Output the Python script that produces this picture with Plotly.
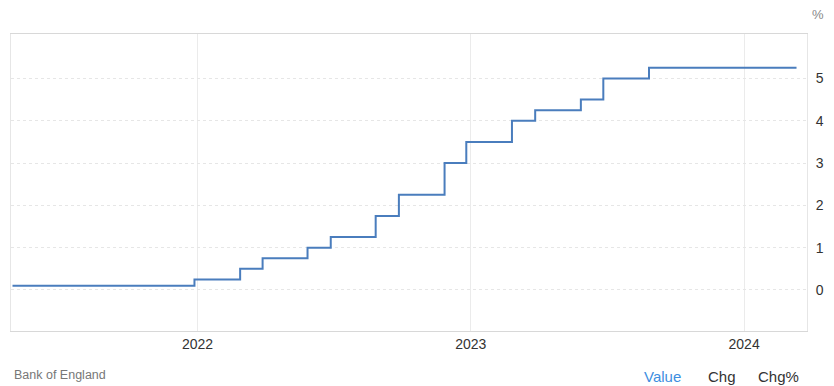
import plotly.graph_objects as go

# Bank of England Bank Rate (%), step changes (dates as placed on the chart)
dates = ["2021-04-29", "2021-12-28", "2022-02-27", "2022-03-29", "2022-05-28",
         "2022-06-28", "2022-08-27", "2022-09-27", "2022-11-27", "2022-12-26",
         "2023-02-25", "2023-03-28", "2023-05-28", "2023-06-27", "2023-08-27",
         "2024-03-11"]
rates = [0.10, 0.25, 0.50, 0.75, 1.00, 1.25, 1.75, 2.25, 3.00, 3.50,
         4.00, 4.25, 4.50, 5.00, 5.25, 5.25]
x_ticks = ["2022-01-01", "2023-01-01", "2024-01-01"]
x_tick_labels = ["2022", "2023", "2024"]
y_ticks = [0, 1, 2, 3, 4, 5]

W, H = 834, 386
L, R, T, B = 10, 23, 34, 55
pw, ph = W - L - R, H - T - B

def px(x):
    return (x - L) / pw

def py(y):
    return (H - B - y) / ph

fig = go.Figure()
fig.add_trace(go.Scatter(
    x=dates, y=rates, mode="lines", line_shape="hv",
    line=dict(color="#4a7dbd", width=2), hoverinfo="x+y", showlegend=False))

fig.update_layout(
    width=W, height=H,
    margin=dict(l=L, r=R, t=T, b=B),
    paper_bgcolor="white", plot_bgcolor="white",
    font=dict(family="Liberation Sans, Arial, sans-serif", color="#333333"),
    xaxis=dict(
        type="date", range=["2021-04-27", "2024-03-25"],
        tickvals=x_ticks, ticktext=x_tick_labels,
        showgrid=True, gridcolor="#ebebeb", gridwidth=1,
        showline=True, linecolor="#d8d8d8", linewidth=1, mirror=True,
        ticks="", tickfont=dict(size=14, color="#333333"),
        zeroline=False, fixedrange=True),
    yaxis=dict(
        side="right", range=[-0.97, 6.05], tickvals=y_ticks,
        showgrid=True, gridcolor="#e6e6e6", gridwidth=1, griddash="dot",
        showline=True, linecolor="#e6e6e6", linewidth=1, mirror=True,
        ticks="", ticklabelstandoff=5,
        tickfont=dict(size=14, color="#333333"),
        zeroline=False, fixedrange=True),
)

fig.add_annotation(text="%", xref="paper", yref="paper", x=px(814), y=py(15),
                   xanchor="left", yanchor="middle", showarrow=False,
                   font=dict(size=13, color="#888888"))
fig.add_annotation(text="Bank of England", xref="paper", yref="paper", x=px(11), y=py(375),
                   xanchor="left", yanchor="middle", showarrow=False,
                   font=dict(size=12.5, color="#777777"))
fig.add_annotation(text="Value", xref="paper", yref="paper", x=px(645), y=py(376),
                   xanchor="left", yanchor="middle", showarrow=False,
                   font=dict(size=15, color="#3d8ee0"))
fig.add_annotation(text="Chg", xref="paper", yref="paper", x=px(709), y=py(376),
                   xanchor="left", yanchor="middle", showarrow=False,
                   font=dict(size=15, color="#333333"))
fig.add_annotation(text="Chg%", xref="paper", yref="paper", x=px(760), y=py(376),
                   xanchor="left", yanchor="middle", showarrow=False,
                   font=dict(size=15, color="#333333"))

fig.write_html("out.html")
